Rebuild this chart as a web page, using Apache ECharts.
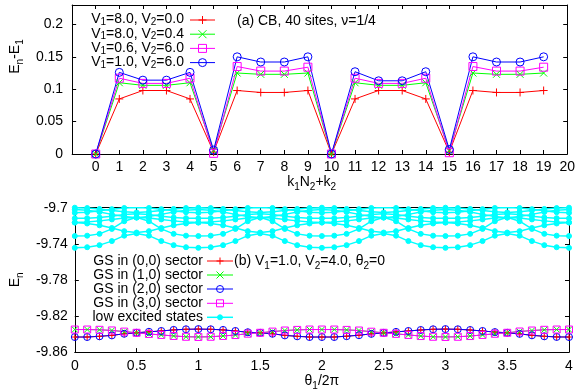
<!DOCTYPE html>
<html lang="en">
<head>
  <meta charset="UTF-8">
  <script src="https://cdn.jsdelivr.net/npm/echarts@6.0.0/dist/echarts.min.js"></script>
  <style>
    body { margin: 0; background: #fff; }
    #container { width: 578px; height: 392px; }
  </style>
</head>
<body>
  <div id="container"></div>
  <script>
    // (a) excitation gaps vs momentum sector
    var kIndex = [0, 1, 2, 3, 4, 5, 6, 7, 8, 9, 10, 11, 12, 13, 14, 15, 16, 17, 18, 19];
    var gapV80V00 = [0, 0.085, 0.098, 0.098, 0.085, 0.003, 0.098, 0.095, 0.095, 0.098, 0, 0.085, 0.098, 0.098, 0.085, 0.003, 0.098, 0.095, 0.095, 0.098];
    var gapV80V04 = [0, 0.110, 0.106, 0.106, 0.110, 0.005, 0.125, 0.123, 0.123, 0.125, 0, 0.110, 0.106, 0.106, 0.110, 0.005, 0.125, 0.123, 0.123, 0.125];
    var gapV06V60 = [0, 0.117, 0.109, 0.109, 0.117, 0.001, 0.135, 0.128, 0.128, 0.134, 0, 0.117, 0.109, 0.109, 0.117, 0.002, 0.135, 0.128, 0.128, 0.134];
    var gapV10V60 = [0, 0.126, 0.114, 0.114, 0.126, 0.006, 0.150, 0.142, 0.142, 0.150, 0, 0.127, 0.113, 0.113, 0.127, 0.007, 0.150, 0.142, 0.142, 0.150];

    // (b) spectral flow vs theta1/2pi
    var theta = [0, 0.1, 0.2, 0.3, 0.4, 0.5, 0.6, 0.7, 0.8, 0.9, 1, 1.1, 1.2, 1.3, 1.4, 1.5, 1.6, 1.7, 1.8, 1.9, 2,
                 2.1, 2.2, 2.3, 2.4, 2.5, 2.6, 2.7, 2.8, 2.9, 3, 3.1, 3.2, 3.3, 3.4, 3.5, 3.6, 3.7, 3.8, 3.9, 4];
    var gs00 = [-9.8433, -9.8433, -9.8425, -9.8415, -9.8397, -9.8386, -9.8375, -9.8366, -9.8354, -9.8347, -9.8345,
                -9.8347, -9.8354, -9.8366, -9.8380, -9.8386, -9.8397, -9.8415, -9.8425, -9.8433, -9.8433,
                -9.8433, -9.8424, -9.8413, -9.8398, -9.8387, -9.8376, -9.8366, -9.8355, -9.8347, -9.8345,
                -9.8347, -9.8355, -9.8366, -9.8378, -9.8386, -9.8398, -9.8414, -9.8425, -9.8432, -9.8433];
    var gs10 = [-9.8350, -9.8350, -9.8353, -9.8360, -9.8373, -9.8386, -9.8399, -9.8410, -9.8421, -9.8430, -9.8432,
                -9.8430, -9.8421, -9.8411, -9.8396, -9.8386, -9.8373, -9.8361, -9.8354, -9.8350, -9.8350,
                -9.8350, -9.8354, -9.8361, -9.8374, -9.8386, -9.8398, -9.8410, -9.8422, -9.8430, -9.8432,
                -9.8430, -9.8422, -9.8410, -9.8397, -9.8386, -9.8372, -9.8361, -9.8353, -9.8350, -9.8350];
    var gs20 = gs00;
    var gs30 = gs10;

    var excited1 = [-9.7445, -9.7438, -9.7415, -9.7370, -9.7310, -9.7285, -9.7310, -9.7370, -9.7415, -9.7438,
                    -9.7445, -9.7438, -9.7415, -9.7370, -9.7310, -9.7285, -9.7310, -9.7370, -9.7415, -9.7438,
                    -9.7445, -9.7438, -9.7415, -9.7370, -9.7310, -9.7285, -9.7310, -9.7370, -9.7415, -9.7438,
                    -9.7445, -9.7438, -9.7415, -9.7370, -9.7310, -9.7285, -9.7310, -9.7370, -9.7415, -9.7438, -9.7445];
    var excited2 = [-9.7314, -9.7310, -9.7290, -9.7235, -9.7150, -9.7105, -9.7150, -9.7235, -9.7290, -9.7310,
                    -9.7314, -9.7310, -9.7290, -9.7235, -9.7150, -9.7105, -9.7150, -9.7235, -9.7290, -9.7310,
                    -9.7314, -9.7310, -9.7290, -9.7235, -9.7150, -9.7105, -9.7150, -9.7235, -9.7290, -9.7310,
                    -9.7314, -9.7310, -9.7290, -9.7235, -9.7150, -9.7105, -9.7150, -9.7235, -9.7290, -9.7310, -9.7314];
    var excited3 = [-9.7164, -9.7175, -9.7195, -9.7225, -9.7260, -9.7275, -9.7260, -9.7225, -9.7195, -9.7175,
                    -9.7164, -9.7175, -9.7195, -9.7225, -9.7260, -9.7275, -9.7260, -9.7225, -9.7195, -9.7175,
                    -9.7164, -9.7175, -9.7195, -9.7225, -9.7260, -9.7275, -9.7260, -9.7225, -9.7195, -9.7175,
                    -9.7164, -9.7175, -9.7195, -9.7225, -9.7260, -9.7275, -9.7260, -9.7225, -9.7195, -9.7175, -9.7164];
    var excited4 = [-9.7118, -9.7116, -9.7108, -9.7094, -9.7076, -9.7066, -9.7076, -9.7094, -9.7108, -9.7116,
                    -9.7118, -9.7116, -9.7108, -9.7094, -9.7076, -9.7066, -9.7076, -9.7094, -9.7108, -9.7116,
                    -9.7118, -9.7116, -9.7108, -9.7094, -9.7076, -9.7066, -9.7076, -9.7094, -9.7108, -9.7116,
                    -9.7118, -9.7116, -9.7108, -9.7094, -9.7076, -9.7066, -9.7076, -9.7094, -9.7108, -9.7116, -9.7118];
    var excited5 = [-9.7164, -9.7158, -9.7146, -9.7130, -9.7115, -9.7108, -9.7115, -9.7130, -9.7146, -9.7158,
                    -9.7164, -9.7158, -9.7146, -9.7130, -9.7115, -9.7108, -9.7115, -9.7130, -9.7146, -9.7158,
                    -9.7164, -9.7158, -9.7146, -9.7130, -9.7115, -9.7108, -9.7115, -9.7130, -9.7146, -9.7158,
                    -9.7164, -9.7158, -9.7146, -9.7130, -9.7115, -9.7108, -9.7115, -9.7130, -9.7146, -9.7158, -9.7164];
    var excited6 = [-9.7057, -9.7050, -9.7034, -9.7016, -9.7003, -9.6998, -9.7003, -9.7016, -9.7034, -9.7050,
                    -9.7057, -9.7050, -9.7034, -9.7016, -9.7003, -9.6998, -9.7003, -9.7016, -9.7034, -9.7050,
                    -9.7057, -9.7050, -9.7034, -9.7016, -9.7003, -9.6998, -9.7003, -9.7016, -9.7034, -9.7050,
                    -9.7057, -9.7050, -9.7034, -9.7016, -9.7003, -9.6998, -9.7003, -9.7016, -9.7034, -9.7050, -9.7057];
    var excited7 = [-9.7021, -9.7028, -9.7048, -9.7074, -9.7098, -9.7110, -9.7098, -9.7074, -9.7048, -9.7028,
                    -9.7021, -9.7028, -9.7048, -9.7074, -9.7098, -9.7110, -9.7098, -9.7074, -9.7048, -9.7028,
                    -9.7021, -9.7028, -9.7048, -9.7074, -9.7098, -9.7110, -9.7098, -9.7074, -9.7048, -9.7028,
                    -9.7021, -9.7028, -9.7048, -9.7074, -9.7098, -9.7110, -9.7098, -9.7074, -9.7048, -9.7028, -9.7021];
    var excited8 = [-9.7000, -9.7004, -9.7014, -9.7030, -9.7046, -9.7052, -9.7046, -9.7030, -9.7014, -9.7004,
                    -9.7000, -9.7004, -9.7014, -9.7030, -9.7046, -9.7052, -9.7046, -9.7030, -9.7014, -9.7004,
                    -9.7000, -9.7004, -9.7014, -9.7030, -9.7046, -9.7052, -9.7046, -9.7030, -9.7014, -9.7004,
                    -9.7000, -9.7004, -9.7014, -9.7030, -9.7046, -9.7052, -9.7046, -9.7030, -9.7014, -9.7004, -9.7000];
    var excitedLevels = [excited1, excited2, excited3, excited4, excited5, excited6, excited7, excited8];

    // key labels (subscripts as rich text)
    var topKeyLabels = ['{n|V}{s|1}{n|=8.0, V}{s|2}{n|=0.0}', '{n|V}{s|1}{n|=8.0, V}{s|2}{n|=0.4}',
                        '{n|V}{s|1}{n|=0.6, V}{s|2}{n|=6.0}', '{n|V}{s|1}{n|=1.0, V}{s|2}{n|=6.0}'];
    var bottomKeyLabels = ['GS in (0,0) sector', 'GS in (1,0) sector', 'GS in (2,0) sector', 'GS in (3,0) sector', 'low excited states'];

    var FONT = 'Liberation Sans';
    var PLUS = 'path://M0,5L10,5M5,0L5,10';
    var CROSS = 'path://M0,0L10,10M10,0L0,10';

    var rich = {
      n: { fontFamily: FONT, fontSize: 14, lineHeight: 20, color: '#000' },
      s: { fontFamily: FONT, fontSize: 10, lineHeight: 10, verticalAlign: 'bottom', color: '#000' }
    };
    // same for zrender text in graphic elements (uses fill)
    var richKey = {
      n: { fontFamily: FONT, fontSize: 14, lineHeight: 15, verticalAlign: 'top', fill: '#000' },
      s: { fontFamily: FONT, fontSize: 10, lineHeight: 10, verticalAlign: 'bottom', fill: '#000' }
    };

    function pairs(xs, ys) {
      var res = [];
      for (var i = 0; i < ys.length; i++) res.push([xs[i], ys[i]]);
      return res;
    }

    function markSeries(name, xs, ys, color, symbol, size, hollow, panel) {
      return {
        name: name,
        type: 'line',
        xAxisIndex: panel * 2,
        yAxisIndex: panel * 2,
        data: pairs(xs, ys),
        symbol: symbol,
        symbolSize: size,
        showSymbol: true,
        lineStyle: { color: color, width: 1 },
        itemStyle: { color: hollow ? 'rgba(0,0,0,0)' : color, borderColor: color, borderWidth: 1 },
        emphasis: { disabled: true }
      };
    }

    function valueAxis(grid, pos, min, max, interval, showLabel, extra) {
      var ax = {
        type: 'value',
        gridIndex: grid,
        position: pos,
        min: min,
        max: max,
        interval: interval,
        splitLine: { show: false },
        axisLine: { show: true, onZero: false, lineStyle: { color: '#000', width: 1 } },
        axisTick: { show: true, inside: true, length: 4, lineStyle: { color: '#000' } },
        axisLabel: { show: showLabel, fontFamily: FONT, fontSize: 14, color: '#000' }
      };
      for (var k in extra) ax[k] = extra[k];
      return ax;
    }

    // gnuplot-style key: right-aligned text, then a line sample with the point in the middle
    function keySymbol(kind, cx, cy, size, color) {
      var h = size / 2;
      var st = { stroke: color, lineWidth: 1, fill: 'none' };
      if (kind === 'plus') {
        return [{ type: 'line', shape: { x1: cx - h, y1: cy, x2: cx + h, y2: cy }, style: st },
                { type: 'line', shape: { x1: cx, y1: cy - h, x2: cx, y2: cy + h }, style: st }];
      }
      if (kind === 'cross') {
        return [{ type: 'line', shape: { x1: cx - h, y1: cy - h, x2: cx + h, y2: cy + h }, style: st },
                { type: 'line', shape: { x1: cx - h, y1: cy + h, x2: cx + h, y2: cy - h }, style: st }];
      }
      if (kind === 'rect') {
        return [{ type: 'rect', shape: { x: cx - h, y: cy - h, width: size, height: size }, style: st }];
      }
      if (kind === 'circle') {
        return [{ type: 'circle', shape: { cx: cx, cy: cy, r: h }, style: st }];
      }
      return [{ type: 'circle', shape: { cx: cx, cy: cy, r: h }, style: { fill: color, stroke: color, lineWidth: 1 } }];
    }

    function keyEntry(label, useRich, textRight, x1, x2, cy, color, kind, size, lineW) {
      var els = [];
      var ts = { text: label, x: textRight, y: cy, align: 'right', verticalAlign: 'middle' };
      if (useRich) { ts.rich = richKey; }
      else { ts.fontFamily = FONT; ts.fontSize = 14; ts.fill = '#000'; }
      els.push({ type: 'text', style: ts, silent: true });
      els.push({ type: 'line', shape: { x1: x1, y1: cy, x2: x2, y2: cy }, style: { stroke: color, lineWidth: lineW }, silent: true });
      return els.concat(keySymbol(kind, (x1 + x2) / 2, cy, size, color));
    }

    var keyEls = [];
    var topColors = ['#ff0000', '#00ff00', '#ff00ff', '#0000ff'];
    var topKinds = ['plus', 'cross', 'rect', 'circle'];
    var topRowsY = [20, 34.2, 48.4, 62.6];
    topKeyLabels.forEach(function (lab, i) {
      keyEls = keyEls.concat(keyEntry(lab, true, 184, 190, 215, topRowsY[i], topColors[i], topKinds[i], 8, 1));
    });
    var bottomColors = ['#ff0000', '#00ff00', '#0000ff', '#ff00ff', '#00ffff'];
    var bottomKinds = ['plus', 'cross', 'circle', 'rect', 'dot'];
    var bottomRowsY = [261, 275, 289, 303.3, 317.3];
    bottomKeyLabels.forEach(function (lab, i) {
      keyEls = keyEls.concat(keyEntry(lab, false, 203, 207, 233, bottomRowsY[i], bottomColors[i], bottomKinds[i],
        i === 4 ? 5 : 7, i === 4 ? 1.5 : 1));
    });

    var series = [
      markSeries('V1=8.0, V2=0.0', kIndex, gapV80V00, '#ff0000', PLUS, 8, false, 0),
      markSeries('V1=8.0, V2=0.4', kIndex, gapV80V04, '#00ff00', CROSS, 7, false, 0),
      markSeries('V1=0.6, V2=6.0', kIndex, gapV06V60, '#ff00ff', 'rect', 8, true, 0),
      markSeries('V1=1.0, V2=6.0', kIndex, gapV10V60, '#0000ff', 'circle', 8, true, 0),
      markSeries('GS in (0,0) sector', theta, gs00, '#ff0000', PLUS, 7, false, 1),
      markSeries('GS in (1,0) sector', theta, gs10, '#00ff00', CROSS, 6, false, 1),
      markSeries('GS in (2,0) sector', theta, gs20, '#0000ff', 'circle', 7, true, 1),
      markSeries('GS in (3,0) sector', theta, gs30, '#ff00ff', 'rect', 7, true, 1)
    ];
    excitedLevels.forEach(function (lv) {
      var s = markSeries('low excited states', theta, lv, '#00ffff', 'circle', 5, false, 1);
      s.lineStyle.width = 1.5;
      series.push(s);
    });

    var myChart = echarts.init(document.getElementById('container'), null, { renderer: 'canvas' });
    var option = {
      animation: false,
      backgroundColor: '#fff',
      textStyle: { fontFamily: FONT },
      grid: [
        { left: 65.5, top: 5, width: 503, height: 149 },
        { left: 70.5, top: 207.7, width: 498.5, height: 148 }
      ],
      title: [
        { text: '(a) CB, 40 sites, ν=1/4', left: 237, top: 11, padding: 0,
          textStyle: { fontFamily: FONT, fontSize: 14, fontWeight: 'normal', color: '#000', lineHeight: 20 } },
        { text: '{n|(b) V}{s|1}{n|=1.0, V}{s|2}{n|=4.0, θ}{s|2}{n|=0}', left: 234, top: 251, padding: 0,
          textStyle: { fontSize: 14, fontWeight: 'normal', color: '#000', rich: rich } }
      ],
      graphic: { elements: keyEls },
      xAxis: [
        valueAxis(0, 'bottom', -1, 20, 1, true, {
          name: '{n|k}{s|1}{n|N}{s|2}{n|+k}{s|2}', nameLocation: 'middle', nameGap: 13,
          nameTextStyle: { rich: rich, padding: [0, 16, 0, 0] },
          axisLabel: { show: true, fontFamily: FONT, fontSize: 14, color: '#000', margin: 6,
            formatter: function (v) { return v < 0 ? '' : String(v); } }
        }),
        valueAxis(0, 'top', -1, 20, 1, false, {}),
        valueAxis(1, 'bottom', 0, 4, 0.5, true, {
          name: '{n|θ}{s|1}{n|/2π}', nameLocation: 'middle', nameGap: 15,
          nameTextStyle: { rich: rich },
          axisLabel: { show: true, fontFamily: FONT, fontSize: 14, color: '#000', margin: 7 }
        }),
        valueAxis(1, 'top', 0, 4, 0.5, false, {})
      ],
      yAxis: [
        valueAxis(0, 'left', 0, 0.23, 0.05, true, {
          name: '{n|E}{s|n}{n|-E}{s|1}', nameLocation: 'middle', nameGap: 41,
          nameTextStyle: { rich: rich, padding: [0, 0, 0, 46] },
          axisLabel: { show: true, fontFamily: FONT, fontSize: 14, color: '#000', margin: 9,
            formatter: function (v) { return v > 0.21 ? '' : String(v); } }
        }),
        valueAxis(0, 'right', 0, 0.23, 0.05, false, {}),
        valueAxis(1, 'left', -9.86, -9.70, 0.04, true, {
          name: '{n|E}{s|n}', nameLocation: 'middle', nameGap: 47,
          nameTextStyle: { rich: rich },
          axisLabel: { show: true, fontFamily: FONT, fontSize: 14, color: '#000', margin: 7 }
        }),
        valueAxis(1, 'right', -9.86, -9.70, 0.04, false, {})
      ],
      series: series
    };
    myChart.setOption(option);
  </script>
</body>
</html>
